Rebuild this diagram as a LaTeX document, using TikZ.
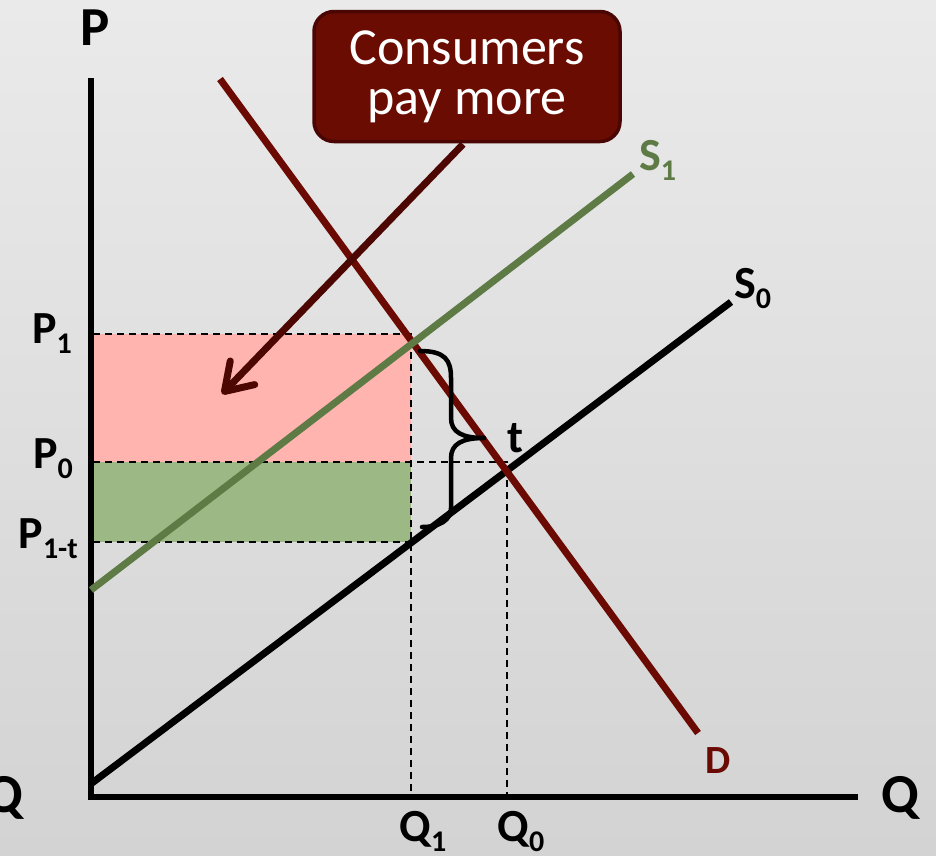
\documentclass[tikz,border=0pt]{standalone}
\usepackage{fontspec}
\setmainfont{Carlito}
\usetikzlibrary{arrows.meta}
\definecolor{bgtop}{HTML}{EAEAEA}
\definecolor{bgbot}{HTML}{D3D3D3}
\definecolor{dred}{HTML}{6B0A02}
\definecolor{arrred}{HTML}{4D0703}
\definecolor{boxfill}{HTML}{6B0C03}
\definecolor{boxedge}{HTML}{4A0602}
\definecolor{sgreen}{HTML}{5E7B46}
\definecolor{pinkfill}{HTML}{FFB4B0}
\definecolor{greenfill}{HTML}{9CB884}
\newcommand\sbs[1]{\raisebox{-10pt}{\fontsize{30}{30}\selectfont #1}}
\tikzset{
  lbl/.style={inner sep=0pt, font=\fontsize{46}{46}\selectfont\bfseries},
  biglbl/.style={inner sep=0pt, font=\fontsize{55}{55}\selectfont\bfseries},
  guide/.style={draw=black, line width=1.8pt, dash pattern=on 7pt off 5pt},
  axisline/.style={draw=black, line width=5.5pt},
  curve/.style={line width=7pt},
  bracepath/.style={draw=black, line width=4.5pt, line cap=round},
}
\begin{document}
\begin{tikzpicture}[x=1pt,y=-1pt]
\useasboundingbox (0,0) rectangle (936,855);
\shade[top color=bgtop, bottom color=bgbot] (0,0) rectangle (936,855);

% coordinates
\coordinate (O) at (91,797);
\coordinate (Ptop) at (91,78);
\coordinate (Qend) at (858,797);
\coordinate (p1l) at (93,334);
\coordinate (p1r) at (411,334);
\coordinate (p0l) at (93,462);
\coordinate (p0r) at (507,462);
\coordinate (ptl) at (93,542);
\coordinate (ptr) at (411,542);
\coordinate (q1) at (411,797);
\coordinate (q0) at (507,797);
\coordinate (s0a) at (92,783);
\coordinate (s0b) at (731,302);
\coordinate (s1a) at (91,590);
\coordinate (s1b) at (633,174);
\coordinate (da) at (220,79);
\coordinate (db) at (698,733);

% areas
\fill[pinkfill] (p1l) rectangle (411,462);
\fill[greenfill] (p0l) rectangle (ptr);

% guides
\draw[guide] (p1l) -- (p1r) -- (q1);
\draw[guide] (p0l) -- (p0r) -- (q0);
\draw[guide] (ptl) -- (ptr);

% axes
\draw[axisline] (Ptop) -- (O) -- (Qend);

% curves
\draw[curve, black] (s0a) -- (s0b);
\draw[curve, dred] (da) -- (db);
\draw[curve, sgreen] (s1a) -- (s1b);

% brace
\coordinate (bt) at (420,351);
\coordinate (bm) at (484,438);
\coordinate (bb) at (422,527);
\draw[bracepath] (bt) .. controls (445,351) and (451,360) .. (451,378) -- (451,418)
  .. controls (451,432) and (462,438) .. (bm);
\draw[bracepath] (bm) .. controls (462,438) and (451,444) .. (451,458) -- (451,508)
  .. controls (451,520) and (440,527) .. (bb);

% callout
\node[draw=boxedge, line width=3.5pt, fill=boxfill, rounded corners=20pt,
      minimum width=306pt, minimum height=130pt, inner sep=0pt,
      align=center, text=white, font=\fontsize{52}{50}\selectfont]
      (callout) at (467,76.5) {Consumers\\pay more};
\coordinate (tip) at (222,394);
\draw[arrred, line width=7pt, -{Straight Barb[length=26pt,width=34pt,round]}]
  ([xshift=-4pt,yshift=-1pt]callout.south) -- (tip);

% labels
\node[biglbl, anchor=base] (Plab) at (95,45) {P};
\node[biglbl, anchor=base] (Qr) at (900,812) {Q};
\node[biglbl, anchor=base] (Ql) at (4,812) {Q};
\node[lbl, anchor=base east] (P1lab) at (72,343) {P\sbs{1}};
\node[lbl, anchor=base east] (P0lab) at (73,468) {P\sbs{0}};
\node[lbl, anchor=base east] (Ptlab) at (78,548) {P\sbs{1-t}};
\node[lbl, anchor=base] (Q1lab) at (423,841) {Q\sbs{1}};
\node[lbl, anchor=base] (Q0lab) at (521,841) {Q\sbs{0}};
\node[lbl, anchor=base west, text=sgreen] (S1lab) at (639,170) {S\sbs{1}};
\node[lbl, anchor=base west] (S0lab) at (734,298) {S\sbs{0}};
\node[inner sep=0pt, font=\fontsize{40}{40}\selectfont\bfseries, anchor=base west, text=dred] (Dlab) at (705,773) {D};
\node[lbl, anchor=base west] (tlab) at (507,452) {t};
\end{tikzpicture}
\end{document}
